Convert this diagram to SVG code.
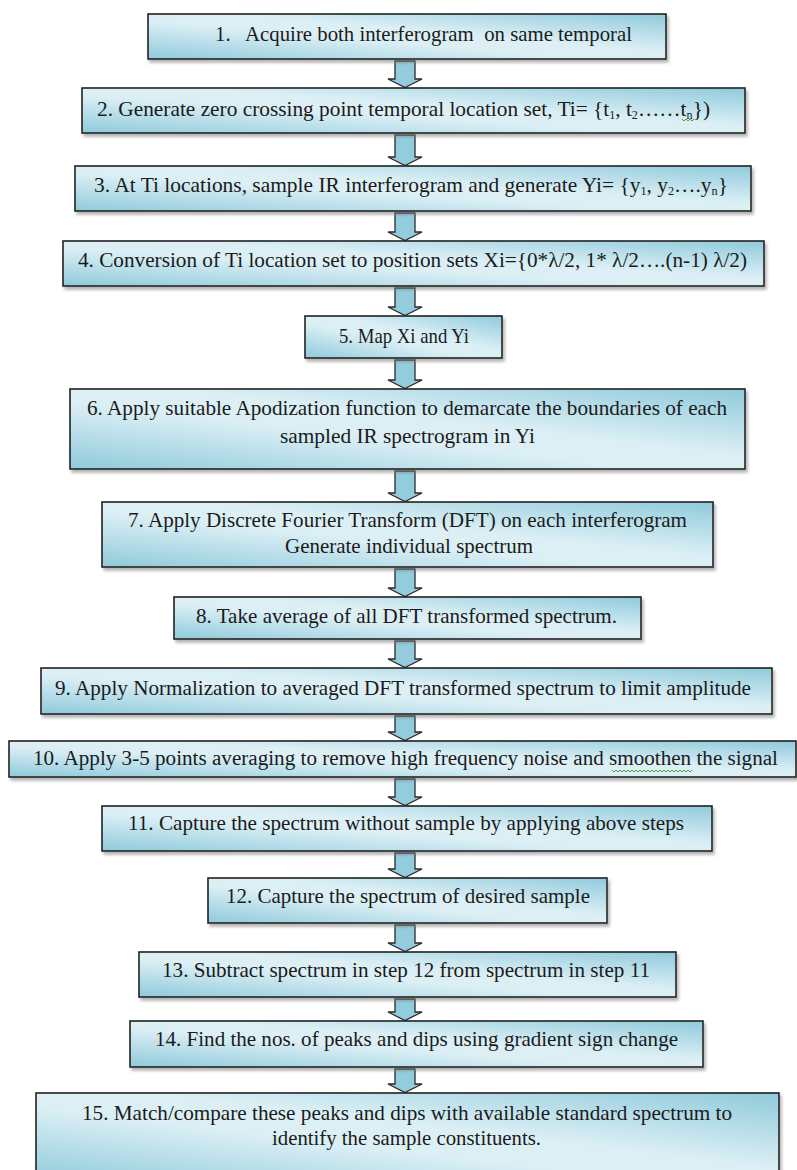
<svg xmlns="http://www.w3.org/2000/svg" width="797" height="1170" viewBox="0 0 797 1170">
<style>
.box{fill:url(#g);stroke:#222;stroke-width:1.6;filter:url(#sh)}
.t{font-family:"Liberation Serif","Times New Roman",serif;font-size:21px;fill:#1b1b1b}
.sub{font-size:12px;baseline-shift:-3px}
.arr{fill:#93cddd;stroke:#2a2a2a;stroke-width:1.3;stroke-linejoin:miter}
.sq{fill:none;stroke:#3aa53a;stroke-width:1}
</style>
<defs>
<linearGradient id="g" x1="0" y1="1" x2="1" y2="0">
<stop offset="0" stop-color="#8fcadb"/>
<stop offset="0.42" stop-color="#dbeff5"/>
<stop offset="0.58" stop-color="#dbeff5"/>
<stop offset="1" stop-color="#8fcadb"/>
</linearGradient>
<filter id="sh" x="-5%" y="-20%" width="110%" height="150%">
<feDropShadow dx="2" dy="3" stdDeviation="1.5" flood-color="#777" flood-opacity="0.55"/>
</filter>
</defs>
<rect width="797" height="1170" fill="#fff"/>
<g id="connectors">
<polygon class="arr" points="395,61 415,61 415,79 422,79 405,87.5 388,79 395,79"/>
<polygon class="arr" points="395,135 415,135 415,157 422,157 405,165.5 388,157 395,157"/>
<polygon class="arr" points="395,213 415,213 415,232 422,232 405,240.5 388,232 395,232"/>
<polygon class="arr" points="395,288 415,288 415,307 422,307 405,315.5 388,307 395,307"/>
<polygon class="arr" points="395,360 415,360 415,380 422,380 405,388.5 388,380 395,380"/>
<polygon class="arr" points="395,471 415,471 415,493 422,493 405,501.5 388,493 395,493"/>
<polygon class="arr" points="395,569 415,569 415,588 422,588 405,596.5 388,588 395,588"/>
<polygon class="arr" points="395,641 415,641 415,659 422,659 405,667.5 388,659 395,659"/>
<polygon class="arr" points="395,716 415,716 415,732 422,732 405,740.5 388,732 395,732"/>
<polygon class="arr" points="395,779 415,779 415,797 422,797 405,805.5 388,797 395,797"/>
<polygon class="arr" points="395,853 415,853 415,869 422,869 405,877.5 388,869 395,869"/>
<polygon class="arr" points="395,925 415,925 415,943 422,943 405,951.5 388,943 395,943"/>
<polygon class="arr" points="395,999 415,999 415,1012 422,1012 405,1020.5 388,1012 395,1012"/>
<polygon class="arr" points="395,1069 415,1069 415,1084 422,1084 405,1092.5 388,1084 395,1084"/>
</g>
<g id="n1"><rect class="box" x="148" y="14" width="518" height="45"/><text class="t" x="215" y="41" textLength="417" lengthAdjust="spacingAndGlyphs" xml:space="preserve">1.   Acquire both interferogram  on same temporal</text></g>
<g id="n2"><rect class="box" x="82" y="88" width="663" height="45"/><text class="t" x="97" y="116" textLength="613" lengthAdjust="spacingAndGlyphs">2. Generate zero crossing point temporal location set, Ti= {t<tspan class="sub">1</tspan>, t<tspan class="sub">2</tspan>……t<tspan class="sub">n</tspan>})</text><polyline class="sq" points="682,119 684,121 686,119 688,121 690,119 692,121 694,119"/></g>
<g id="n3"><rect class="box" x="75" y="166" width="676" height="45"/><text class="t" x="94" y="192" textLength="634" lengthAdjust="spacingAndGlyphs">3. At Ti locations, sample IR interferogram and generate Yi= {y<tspan class="sub">1</tspan>, y<tspan class="sub">2</tspan>….y<tspan class="sub">n</tspan>}</text></g>
<g id="n4"><rect class="box" x="63" y="241" width="701" height="45"/><text class="t" x="78" y="267" textLength="669" lengthAdjust="spacingAndGlyphs">4. Conversion of Ti location set to position sets Xi={0*λ/2, 1* λ/2….(n-1) λ/2)</text></g>
<g id="n5"><rect class="box" x="305" y="316" width="197" height="42"/><text class="t" x="339" y="343" textLength="130" lengthAdjust="spacingAndGlyphs">5. Map Xi and Yi</text></g>
<g id="n6"><rect class="box" x="70" y="389" width="675" height="80"/><text class="t" x="87" y="415" textLength="640" lengthAdjust="spacingAndGlyphs">6. Apply suitable Apodization function to demarcate the boundaries of each</text><text class="t" x="280" y="443" textLength="255" lengthAdjust="spacingAndGlyphs">sampled IR spectrogram in Yi</text></g>
<g id="n7"><rect class="box" x="102" y="502" width="611" height="65"/><text class="t" x="128" y="527" textLength="559" lengthAdjust="spacingAndGlyphs">7. Apply Discrete Fourier Transform (DFT) on each interferogram</text><text class="t" x="285" y="553" textLength="248" lengthAdjust="spacingAndGlyphs">Generate individual spectrum</text></g>
<g id="n8"><rect class="box" x="174" y="597" width="467" height="42"/><text class="t" x="196" y="623" textLength="421" lengthAdjust="spacingAndGlyphs">8. Take average of all DFT transformed spectrum.</text></g>
<g id="n9"><rect class="box" x="41" y="668" width="731" height="46"/><text class="t" x="55" y="695" textLength="696" lengthAdjust="spacingAndGlyphs">9. Apply Normalization to averaged DFT transformed spectrum to limit amplitude</text></g>
<g id="n10"><rect class="box" x="9" y="741" width="787" height="36"/><text class="t" x="33" y="765" textLength="745" lengthAdjust="spacingAndGlyphs" style="font-size:20px">10. Apply 3-5 points averaging to remove high frequency noise and smoothen the signal</text><polyline class="sq" points="612,770 614,772 616,770 618,772 620,770 622,772 624,770 626,772 628,770 630,772 632,770 634,772 636,770 638,772 640,770 642,772 644,770 646,772 648,770 650,772 652,770 654,772 656,770 658,772 660,770 662,772 664,770 666,772 668,770 670,772 672,770 674,772 676,770 678,772 680,770 682,772 684,770 686,772 688,770 690,772 692,770"/></g>
<g id="n11"><rect class="box" x="102" y="806" width="610" height="45"/><text class="t" x="128" y="830" textLength="556" lengthAdjust="spacingAndGlyphs">11. Capture the spectrum without sample by applying above steps</text></g>
<g id="n12"><rect class="box" x="208" y="878" width="399" height="45"/><text class="t" x="226" y="903" textLength="364" lengthAdjust="spacingAndGlyphs">12. Capture the spectrum of desired sample</text></g>
<g id="n13"><rect class="box" x="139" y="952" width="537" height="45"/><text class="t" x="162" y="977" textLength="488" lengthAdjust="spacingAndGlyphs">13. Subtract spectrum in step 12 from spectrum in step 11</text></g>
<g id="n14"><rect class="box" x="130" y="1021" width="573" height="46"/><text class="t" x="155" y="1046" textLength="523" lengthAdjust="spacingAndGlyphs">14. Find the nos. of peaks and dips using gradient sign change</text></g>
<g id="n15"><rect class="box" x="36" y="1093" width="743" height="90"/><text class="t" x="82" y="1120" textLength="650" lengthAdjust="spacingAndGlyphs">15. Match/compare these peaks and dips with available standard spectrum to</text><text class="t" x="272" y="1145" textLength="269" lengthAdjust="spacingAndGlyphs">identify the sample constituents.</text></g>
</svg>
